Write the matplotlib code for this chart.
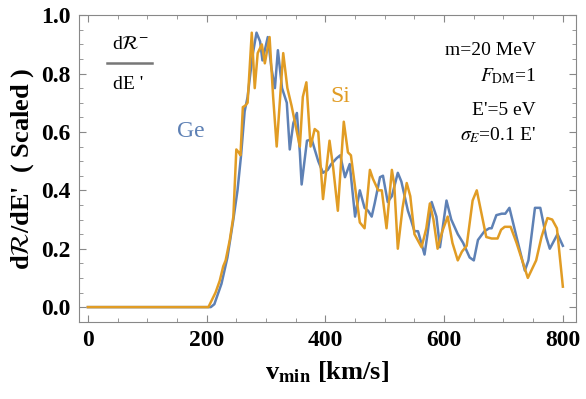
import matplotlib
matplotlib.use("Agg")
import matplotlib.pyplot as plt
from matplotlib.ticker import MultipleLocator

plt.rcParams['font.family'] = ['Liberation Serif', 'DejaVu Serif']
plt.rcParams['mathtext.fontset'] = 'stix'

# Ge curve
v_ge = [0, 207, 213, 225, 235, 245, 252, 258, 264, 269, 273, 278, 284, 290, 294, 298,
        303, 309, 315, 320, 327, 335, 340, 346, 352, 357, 360, 369, 377, 382, 388, 396,
        404, 410, 419, 425, 433, 441, 450, 458, 466, 472, 478, 483, 492, 497, 505, 512,
        522, 528, 539, 544, 550, 556, 567, 572, 579, 587, 593, 604, 612, 623, 632, 643,
        650, 657, 668, 676, 680, 688, 697, 703, 710, 722, 736, 742, 753, 762, 772, 778,
        791, 800]
ge = [0, 0, 0.01, 0.08, 0.17, 0.30, 0.40, 0.52, 0.67, 0.72, 0.79, 0.87, 0.94, 0.91, 0.845, 0.88,
      0.925, 0.82, 0.75, 0.88, 0.75, 0.70, 0.54, 0.63, 0.665, 0.53, 0.42, 0.57, 0.575, 0.54, 0.50, 0.46,
      0.47, 0.49, 0.51, 0.52, 0.445, 0.49, 0.31, 0.40, 0.34, 0.33, 0.31, 0.355, 0.445, 0.45, 0.36, 0.38,
      0.46, 0.43, 0.33, 0.30, 0.26, 0.26, 0.18, 0.25, 0.36, 0.31, 0.205, 0.365, 0.30, 0.25, 0.22, 0.17,
      0.16, 0.23, 0.26, 0.27, 0.27, 0.315, 0.32, 0.32, 0.34, 0.24, 0.125, 0.16, 0.34, 0.34, 0.24, 0.20,
      0.25, 0.21]

# Si curve
v_si = [0, 203, 215, 222, 228, 232, 239, 245, 250, 254, 257, 261, 265, 269, 276, 281,
        286, 293, 298, 306, 312, 318, 329, 336, 343, 350, 357, 362, 368, 375, 382, 388,
        396, 407, 413, 421, 431, 438, 443, 452, 458, 466, 475, 480, 489, 495, 503, 512,
        516, 522, 530, 537, 543, 550, 562, 570, 576, 582, 589, 597, 606, 614, 623, 630,
        638, 648, 655, 663, 671, 680, 690, 696, 702, 712, 722, 741, 755, 764, 774, 782,
        790, 800]
si = [0, 0, 0.05, 0.09, 0.14, 0.16, 0.23, 0.31, 0.54, 0.53, 0.52, 0.685, 0.69, 0.70, 0.94, 0.75,
      0.87, 0.90, 0.835, 0.925, 0.72, 0.55, 0.87, 0.75, 0.69, 0.62, 0.55, 0.72, 0.77, 0.55, 0.61, 0.60,
      0.37, 0.57, 0.48, 0.33, 0.635, 0.53, 0.52, 0.38, 0.29, 0.27, 0.47, 0.44, 0.40, 0.40, 0.27, 0.47,
      0.42, 0.20, 0.34, 0.425, 0.38, 0.25, 0.205, 0.27, 0.355, 0.30, 0.20, 0.26, 0.31, 0.22, 0.16, 0.19,
      0.21, 0.365, 0.40, 0.32, 0.24, 0.235, 0.235, 0.265, 0.275, 0.275, 0.22, 0.10, 0.16, 0.24, 0.305, 0.30,
      0.27, 0.07]

blue = '#5E81B5'
orange = '#E19C24'

fig = plt.figure(figsize=(5.86, 3.99), dpi=100)
ax = fig.add_axes([0.1348, 0.193, 0.848, 0.769])

ax.plot(v_ge, ge, color=blue, lw=1.8)
ax.plot(v_si, si, color=orange, lw=1.8)

ax.set_xlim(-15, 822)
ax.set_ylim(-0.051, 1.0)
ax.xaxis.set_major_locator(MultipleLocator(200))
ax.xaxis.set_minor_locator(MultipleLocator(50))
ax.yaxis.set_major_locator(MultipleLocator(0.2))
ax.yaxis.set_minor_locator(MultipleLocator(0.05))
ax.yaxis.set_major_formatter(plt.FuncFormatter(lambda y, p: f"{y:.1f}"))

for s in ax.spines.values():
    s.set_color('#888888')
ax.tick_params(which='both', direction='in', top=True, right=True, color='#888888')
ax.tick_params(which='major', length=5, labelsize=17, pad=6)
ax.tick_params(which='minor', length=3)
for lab in ax.get_xticklabels() + ax.get_yticklabels():
    lab.set_fontweight('bold')

ax.set_xlabel(r"v$_{\mathbf{min}}$ [km/s]", fontsize=19, fontweight='bold', labelpad=6)
ax.set_ylabel(r"d$\mathcal{R}$/dE'  ( Scaled )", fontsize=19, fontweight='bold', labelpad=4)

# fraction dR-/dE'
ax.text(0.103, 0.905, r"d$\mathcal{R}^{-}$", transform=ax.transAxes, fontsize=14, ha='center', va='center')
ax.plot([0.057, 0.146], [0.845, 0.845], transform=ax.transAxes, color='#777777', lw=1.8)
ax.text(0.098, 0.775, "dE '", transform=ax.transAxes, fontsize=14, ha='center', va='center')

ax.text(0.92, 0.885, "m=20 MeV", transform=ax.transAxes, ha='right', va='center', fontsize=14)
ax.text(0.92, 0.80, r"$F_{\rm DM}$=1", transform=ax.transAxes, ha='right', va='center', fontsize=14)
ax.text(0.92, 0.69, "E'=5 eV", transform=ax.transAxes, ha='right', va='center', fontsize=14)
ax.text(0.92, 0.61, r"$\sigma_E$=0.1 E'", transform=ax.transAxes, ha='right', va='center', fontsize=14)

ax.text(0.225, 0.62, "Ge", transform=ax.transAxes, color=blue, fontsize=17, ha='center', va='center')
ax.text(0.525, 0.735, "Si", transform=ax.transAxes, color=orange, fontsize=17, ha='center', va='center')

fig.savefig("out.png", dpi=100)
